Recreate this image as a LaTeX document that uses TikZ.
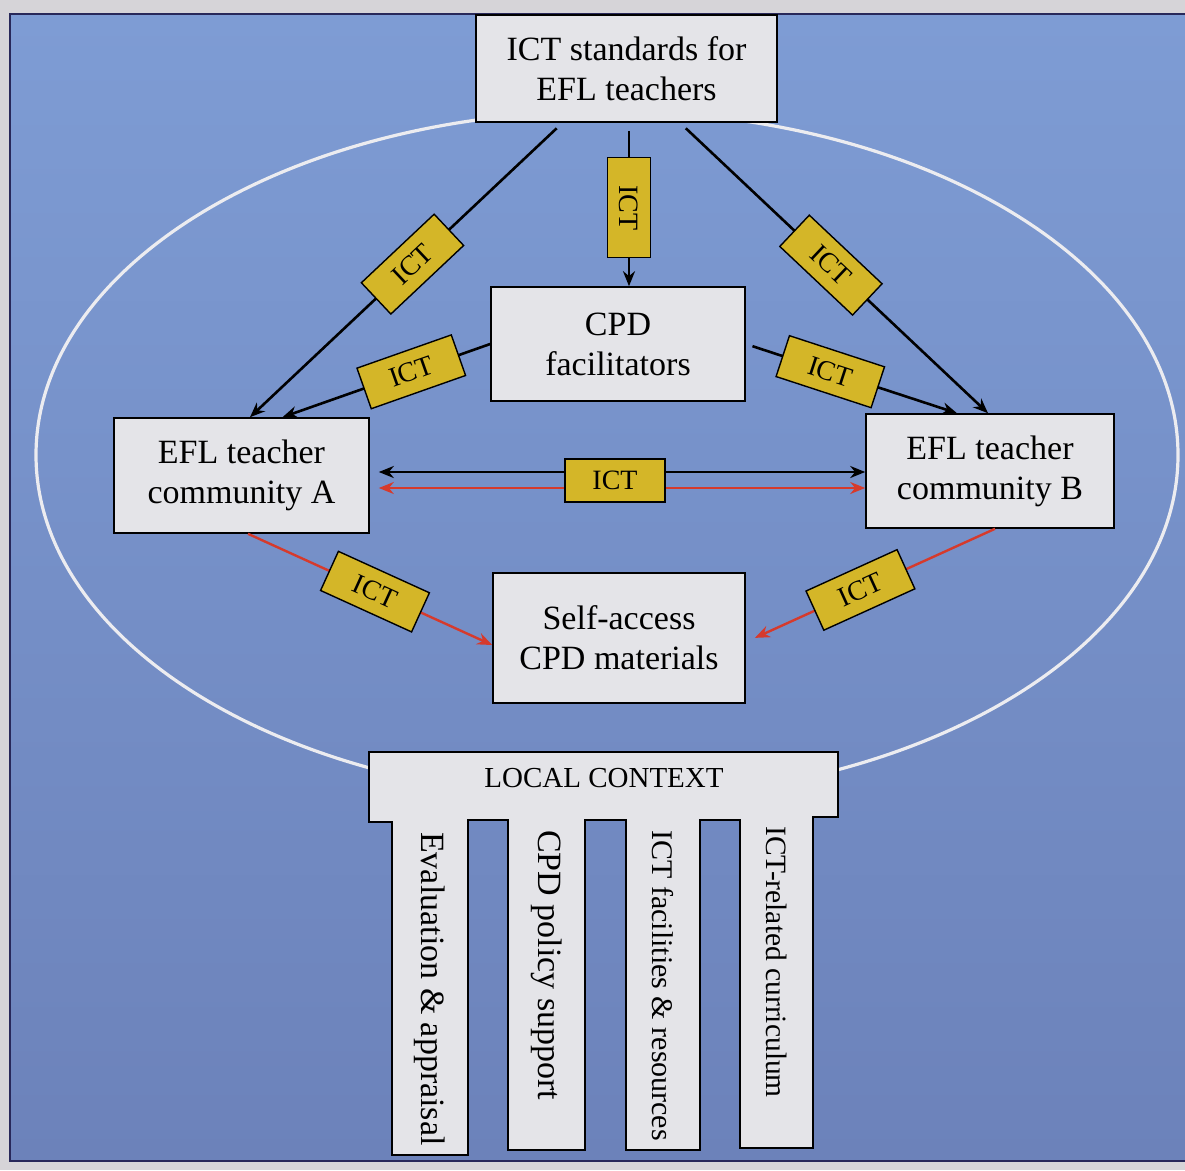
\documentclass[tikz,border=0pt]{standalone}
\usepackage{fontspec}
\setmainfont{Liberation Serif}
\usetikzlibrary{arrows.meta,calc}
\definecolor{page}{RGB}{214,212,216}
\definecolor{panelTop}{RGB}{126,156,212}
\definecolor{panelBot}{RGB}{108,130,186}
\definecolor{frame}{RGB}{40,40,90}
\definecolor{boxgray}{RGB}{228,228,232}
\definecolor{ictyellow}{RGB}{212,182,40}
\definecolor{arrowred}{RGB}{214,58,44}
\definecolor{ringwhite}{RGB}{236,236,240}
\begin{document}
\begin{tikzpicture}[x=1pt,y=-1pt,
  box/.style={draw=black, fill=boxgray, line width=1.6pt, inner sep=0pt,
    align=center, font=\fontsize{34}{40}\selectfont},
  ict/.style={draw=black, fill=ictyellow, line width=1.4pt, minimum width=100pt,
    minimum height=43pt, inner sep=0pt, font=\fontsize{28}{30}\selectfont},
  conn/.style={line width=2.6pt, draw=black, -{Stealth[length=15pt,width=12pt]}},
  redconn/.style={line width=2.4pt, draw=arrowred, -{Stealth[length=15pt,width=12pt]}},
  pillartext/.style={rotate=-90, anchor=west, inner sep=0pt},
]
\useasboundingbox (0,0) rectangle (1185,1170);
% page and blue panel
\fill[page] (0,0) rectangle (1185,1170);
\shade[top color=panelTop, bottom color=panelBot] (10,14) rectangle (1190,1161);
\draw[frame, line width=1.5pt] (1190,14) -- (10,14) -- (10,1161) -- (1190,1161);

% community ring
\draw[ringwhite, line width=3.2pt] (607,455) ellipse [x radius=571pt, y radius=344pt];

% boxes
\node[box, minimum width=301pt, minimum height=107pt] (top) at (626.5,68.5) {ICT standards for\\EFL teachers};
\node[box, minimum width=254pt, minimum height=114pt] (cpd) at (618,344) {CPD\\facilitators};
\node[box, minimum width=255pt, minimum height=115pt] (A) at (241.5,475.5) {EFL teacher\\community A};
\node[box, minimum width=248pt, minimum height=114pt] (B) at (990,471) {EFL teacher\\community B};
\node[box, minimum width=252pt, minimum height=130pt] (self) at (619,638) {Self-access\\CPD materials};

% connectors from the standards box
\draw[conn, shorten <=8pt] ([xshift=2.5pt]top.south) -- ([xshift=2.5pt]top.south |- cpd.north)
  node[ict, rotate=-90, pos=0.52] (ictTC) {ICT};
\draw[conn, shorten <=8pt] ([xshift=-64pt]top.south) -- ([xshift=8.5pt]A.north)
  node[ict, sloped, pos=0.48] (ictTA) {ICT};
\draw[conn, shorten <=8pt] ([xshift=53.5pt]top.south) -- ([xshift=-2pt]B.north)
  node[ict, sloped, pos=0.49] (ictTB) {ICT};

% connectors from the facilitators
\draw[conn] (cpd.west) -- ([xshift=41pt]A.north)
  node[ict, sloped, pos=0.38] (ictCA) {ICT};
\draw[conn, shorten <=7pt] (cpd.east) -- ([xshift=-33pt]B.north)
  node[ict, sloped, pos=0.40] (ictCB) {ICT};

% exchange between the two communities
\draw[conn, {Stealth[length=15pt,width=12pt]}-{Stealth[length=15pt,width=12pt]}, shorten <=9pt]
  ([yshift=3.5pt]A.east) -- ([yshift=3.5pt]A.east -| B.west);
\draw[redconn, {Stealth[length=15pt,width=12pt]}-{Stealth[length=15pt,width=12pt]}, shorten <=9pt]
  ([yshift=-12.5pt]A.east) -- ([yshift=-12.5pt]A.east -| B.west);
\node[ict] (ictAB) at (615,480.5) {ICT};

% access to self-access materials
\draw[redconn] ([xshift=6.5pt]A.south) -- ([yshift=-7pt]self.west)
  node[ict, sloped, pos=0.52] (ictAS) {ICT};
\draw[redconn, shorten >=10pt] ([xshift=5pt]B.south) -- ([yshift=-4pt]self.east)
  node[ict, sloped, pos=0.54] (ictBS) {ICT};

% local context with its four pillars
\draw[black, fill=boxgray, line width=1.6pt]
  (369,752) -- (838,752) -- (838,817) -- (813,817) -- (813,1148) -- (740,1148)
  -- (740,820) -- (700,820) -- (700,1150) -- (626,1150) -- (626,820)
  -- (585,820) -- (585,1150) -- (508,1150) -- (508,820) -- (468,820)
  -- (468,1155) -- (392,1155) -- (392,822) -- (369,822) -- cycle;
\node[inner sep=0pt, font=\fontsize{29}{32}\selectfont] (ctx) at (604,778) {LOCAL CONTEXT};
\node[pillartext, font=\fontsize{34}{38}\selectfont] (p1) at (430,832) {Evaluation \& appraisal};
\node[pillartext, font=\fontsize{34}{38}\selectfont] (p2) at (546.5,830) {CPD policy support};
\node[pillartext, font=\fontsize{30}{34}\selectfont] (p3) at (663,830) {ICT facilities \& resources};
\node[pillartext, font=\fontsize{29.5}{34}\selectfont] (p4) at (776.5,826) {ICT-related curriculum};
\end{tikzpicture}
\end{document}
